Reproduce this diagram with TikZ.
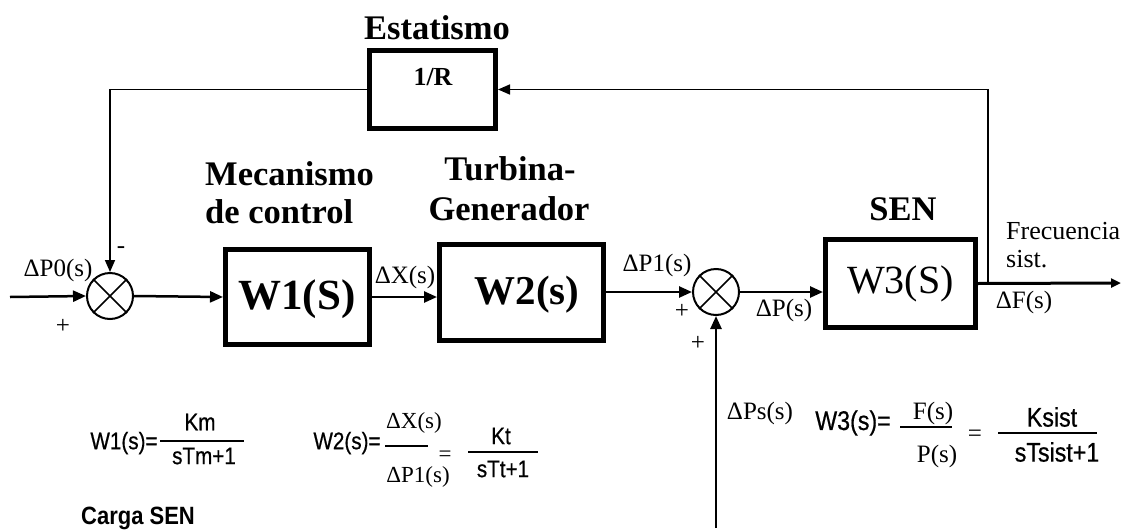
\documentclass[tikz,border=0pt]{standalone}
\usepackage{fontspec}
\setmainfont{Liberation Serif}
\setsansfont{Liberation Sans}
\newfontfamily\narrowsans{Liberation Sans}[FakeStretch=0.86,FakeBold=0.6]
\newfontfamily\narrowsansb{Liberation Sans Bold}[FakeStretch=0.88]
\usetikzlibrary{arrows.meta}
\newcommand{\fsz}[1]{\fontsize{#1}{#1}\selectfont}
\tikzset{
  blk/.style={draw, line width=5pt, inner sep=0pt},
  sumnode/.style={draw, circle, line width=2pt, minimum size=46pt, inner sep=0pt},
  sig/.style={line width=2.5pt, -{Triangle[length=13pt,width=11pt]}},
  fbk/.style={line width=1.6pt, -{Triangle[length=12pt,width=10pt]}},
  lbl/.style={inner sep=0pt, font=\fsz{25}},
  ttl/.style={inner sep=0pt, font=\fsz{34.5}\bfseries},
  frm/.style={inner sep=0pt, font=\narrowsans\fsz{24}},
  frmb/.style={inner sep=0pt, font=\narrowsans\fsz{27}},
  fracl/.style={line width=2pt},
  fracs/.style={line width=1.2pt},
}
\begin{document}
\begin{tikzpicture}[x=1pt,y=-1pt]
\useasboundingbox (0,0) rectangle (1121,530);
% blocks
\node[blk, minimum width=144pt, minimum height=95pt] (w1) at (297.5,297) {};
\node[inner sep=0pt, font=\fsz{43}\bfseries] (w1t) at (297,299) {W1(S)};
\node[blk, minimum width=164pt, minimum height=96pt] (w2) at (521.5,292.5) {};
\node[inner sep=0pt, font=\fsz{41}\bfseries] (w2t) at (527,295) {W2(s)};
\node[blk, minimum width=150pt, minimum height=88pt] (w3) at (900.5,283.5) {\fsz{40}W3(S)};
\node[blk, minimum width=126pt, minimum height=78pt] (r) at (432.5,89.5) {};
\node[inner sep=0pt, font=\fsz{26}\bfseries] (rt) at (433,77) {1/R};
% sum junctions
\node[sumnode] (s1) at (110,296) {};
\node[sumnode] (s2) at (716,292) {};
\draw[line width=1.5pt] (s1.45) -- (s1.225) (s1.135) -- (s1.315);
\draw[line width=1.5pt] (s2.45) -- (s2.225) (s2.135) -- (s2.315);
% titles
\node[ttl, anchor=base] (est) at (437,39) {Estatismo};
\node[ttl, anchor=base west] (mec1) at (205,185) {Mecanismo};
\node[ttl, anchor=base west] (mec2) at (205,223) {de control};
\node[ttl, anchor=base] (tur1) at (510,180) {Turbina-};
\node[ttl, anchor=base] (tur2) at (509,220) {Generador};
\node[ttl, anchor=base] (sen) at (903,220) {SEN};
% coordinates
\coordinate (in) at (10,297);
\coordinate (out) at (1121,283);
\coordinate (fb) at (988,283);
\coordinate (ps) at (716,528);
% connectors
\draw[sig] (in) -- (s1.west);
\draw[sig] (s1.east) -- (w1.west);
\draw[sig] (w1.east) -- (w1.east -| w2.west);
\draw[sig] (s2.west -| w2.east) -- (s2.west);
\draw[sig] (s2.east) -- (s2.east -| w3.west);
\draw[line width=3pt, -{Triangle[length=10pt,width=9pt]}] (w3.east) -- (out);
\draw[fbk] (fb) |- (r.east);
\draw[fbk] (r.west) -| (s1.north);
\draw[sig] (ps) -- (s2.south);
% signal labels
\node[lbl] (lp0) at (58,270) {ΔP0(s)};
\node[lbl] (pl1) at (63,326) {+};
\node[lbl] (mn1) at (121,250) {-};
\node[lbl] (lx) at (405,277) {ΔX(s)};
\node[lbl] (lp1) at (657,265) {ΔP1(s)};
\node[lbl] (pl2) at (682,311) {+};
\node[lbl] (pl3) at (698,343) {+};
\node[lbl] (lp) at (784,310) {ΔP(s)};
\node[lbl, anchor=base west, font=\fsz{26}] (fr1) at (1006,239) {Frecuencia};
\node[lbl, anchor=base west, font=\fsz{26}] (fr2) at (1006,267) {sist.};
\node[lbl] (lf) at (1024,302) {ΔF(s)};
\node[lbl] (lps) at (760,413) {ΔPs(s)};
% formula W1
\node[frm] (f1a) at (124,443) {W1(s)=};
\draw[fracl] (160,441) -- (244,441);
\node[frm] (f1n) at (200,422) {Km};
\node[frm] (f1d) at (204,456) {sTm+1};
% formula W2
\node[frm] (f2a) at (347,443) {W2(s)=};
\draw[fracs] (385,446) -- (428,446);
\node[lbl, font=\fsz{23}] (f2n) at (414,423) {ΔX(s)};
\node[lbl, font=\fsz{23}] (f2d) at (418,477) {ΔP1(s)};
\node[lbl, font=\fsz{23}, text height=5pt, text depth=0pt] (f2e) at (445,459) {=};
\node[frm] (f2n2) at (501,436) {Kt};
\draw[fracl] (468,452) -- (538,452);
\node[frm] (f2d2) at (503,469) {sTt+1};
% formula W3
\node[frmb] (f3a) at (853,423) {W3(s)=};
\draw[fracs] (900,427) -- (952,427);
\node[lbl] (f3n) at (933,413) {F(s)};
\node[lbl] (f3d) at (937,456) {P(s)};
\node[lbl] (f3e) at (975,436) {=};
\node[frmb] (f3n2) at (1052,417) {Ksist};
\draw[fracl] (998,433) -- (1097,433);
\node[frmb] (f3d2) at (1057,452) {sTsist+1};
% load label
\node[inner sep=0pt, font=\narrowsansb\fsz{25}] (carga) at (138,518) {Carga SEN};
\end{tikzpicture}
\end{document}
